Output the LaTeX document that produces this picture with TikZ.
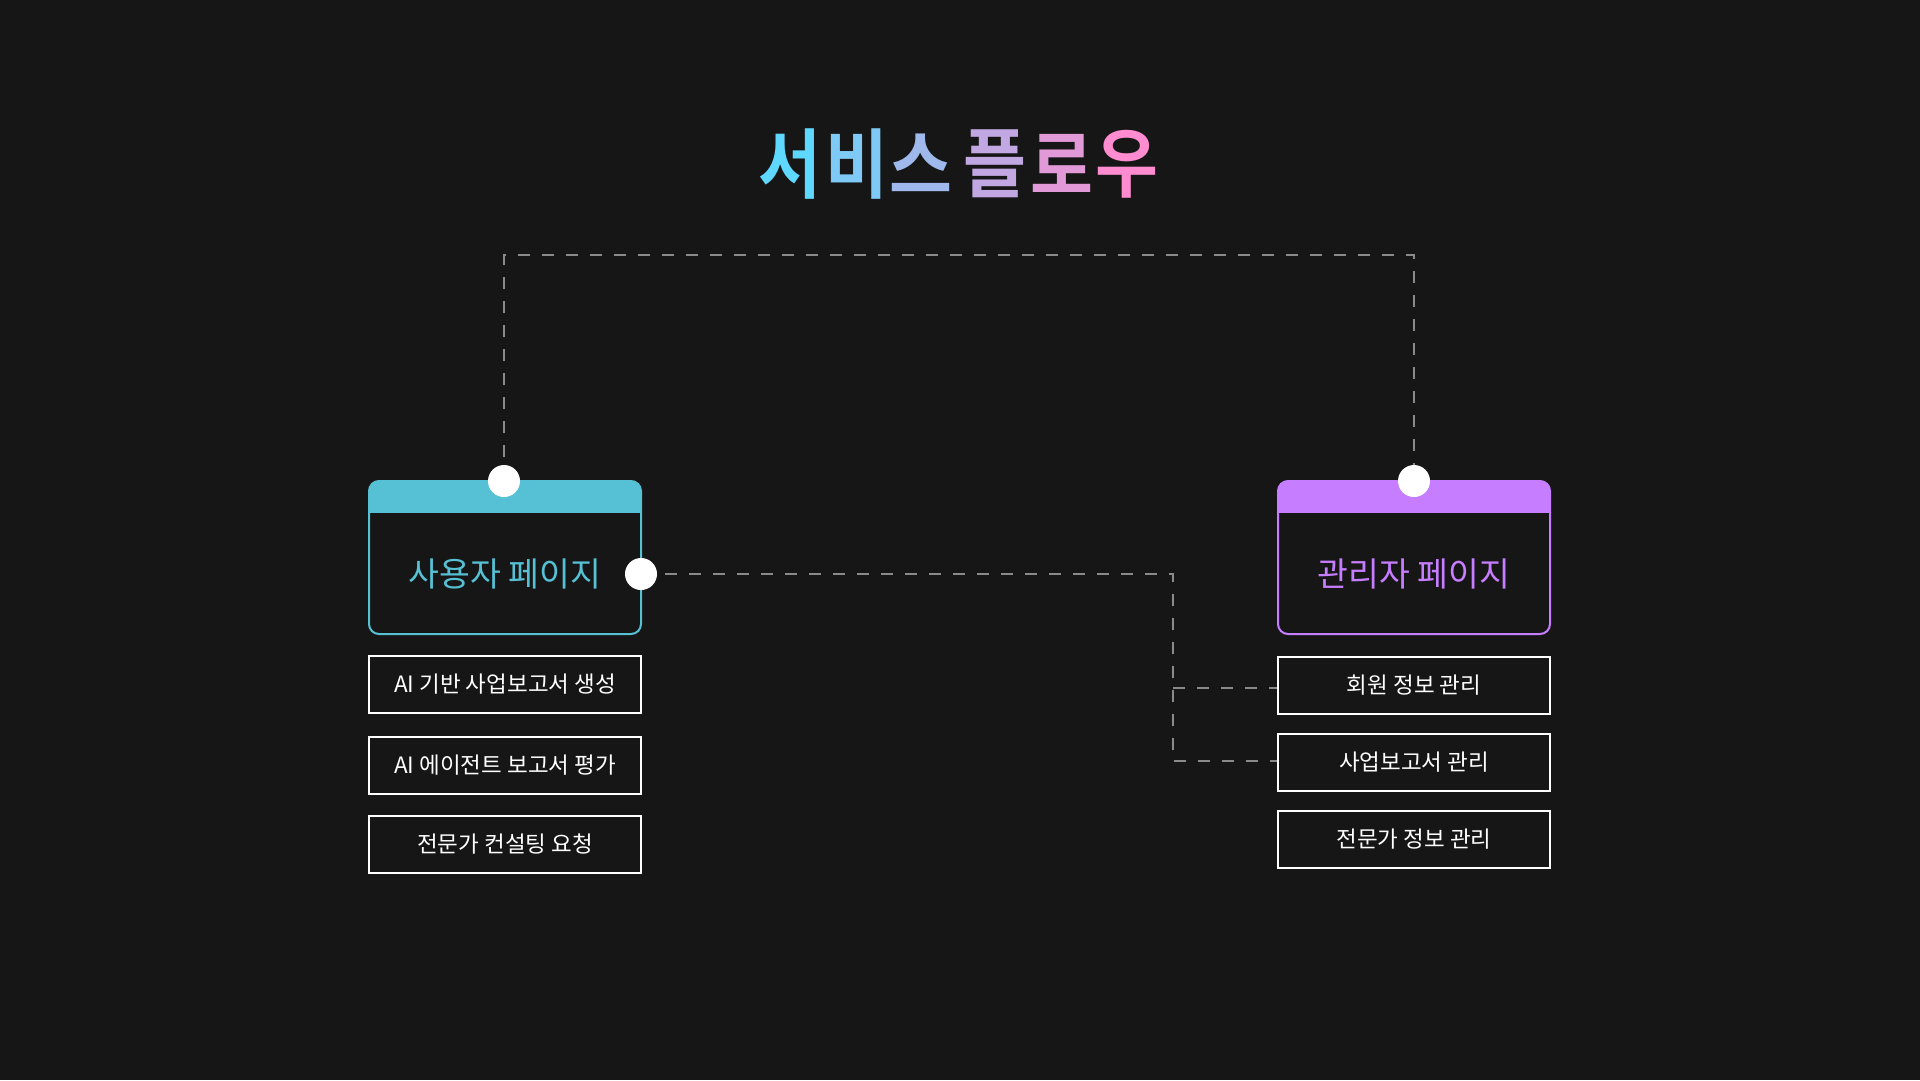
\documentclass[tikz,border=0pt]{standalone}
\usepackage{fontspec}
\newfontfamily\kr{Noto Sans CJK KR}
\newfontfamily\krtitle[FakeStretch=0.9]{Noto Sans CJK KR Bold}
\definecolor{bg}{HTML}{161616}
\definecolor{tealc}{HTML}{56C1D4}
\definecolor{violetc}{HTML}{C77DFF}
\definecolor{dashc}{HTML}{8A8A8A}
\definecolor{tA}{HTML}{5FD8FF}
\definecolor{tB}{HTML}{FF8BD0}
\begin{document}
\begin{tikzpicture}[x=1pt,y=-1pt,
  pagebox/.style={draw=#1, line width=2pt, rounded corners=10pt, minimum width=272pt, minimum height=153pt, inner sep=0pt, fill=bg,
    path picture={\fill[#1, sharp corners] (path picture bounding box.north west) rectangle ([yshift=-32pt]path picture bounding box.north east);}},
  pagelabel/.style={text=#1, font=\kr\fontsize{33.5}{38}\selectfont, inner sep=0pt},
  itembox/.style={draw=white, line width=2pt, minimum width=272pt, minimum height=57pt, inner sep=0pt, text=white, font=\kr\fontsize{22.5}{26}\selectfont},
  dot/.style={circle, fill=white, minimum size=32pt, inner sep=0pt},
  conn/.style={draw=dashc, line width=2pt, dash pattern=on 12pt off 12pt},
  tchar/.style={text=#1, font=\krtitle\fontsize{76}{84}\selectfont, inner sep=0pt}
]
\fill[bg] (0,0) rectangle (1920,1080);
\useasboundingbox (0,0) rectangle (1920,1080);

% title
\node[tchar=tA] (t1) at (790,164) {서};
\node[tchar=tB!20!tA] (t2) at (857,164) {비};
\node[tchar=tB!40!tA] (t3) at (921,164) {스};
\node[tchar=tB!62!tA] (t4) at (995,164) {플};
\node[tchar=tB!82!tA] (t5) at (1062,164) {로};
\node[tchar=tB] (t6) at (1127,164) {우};

% page boxes
\node[pagebox=tealc] (user) at (505,557.5) {};
\node[pagelabel=tealc] (userlabel) at (505,574) {사용자 페이지};
\node[pagebox=violetc] (admin) at (1414,557.5) {};
\node[pagelabel=violetc] (adminlabel) at (1414,574) {관리자 페이지};

% item boxes
\node[itembox] (u1) at (505,684.5) {AI 기반 사업보고서 생성};
\node[itembox] (u2) at (505,765) {AI 에이전트 보고서 평가};
\node[itembox] (u3) at (505,844.5) {전문가 컨설팅 요청};
\node[itembox] (a1) at (1414,685) {회원 정보 관리};
\node[itembox] (a2) at (1414,762) {사업보고서 관리};
\node[itembox] (a3) at (1414,839) {전문가 정보 관리};

% anchor coordinates
\coordinate (userTop) at (504,481);
\coordinate (adminTop) at (1414,481);
\coordinate (userRight) at (641,574);
\coordinate (topY) at (0,255);
\coordinate (b1) at (1173,688);
\coordinate (b2) at (1173,761);

% connectors
\draw[conn] (userTop) -- (userTop |- topY) -| (adminTop);
\draw[conn] (userRight) -| (b2) -- (a2.west |- b2);
\draw[conn] (b1) -- (a1.west |- b1);

% dots
\node[dot] (userTopDot) at (userTop) {};
\node[dot] (adminTopDot) at (adminTop) {};
\node[dot] (userRightDot) at (userRight) {};
\end{tikzpicture}
\end{document}
